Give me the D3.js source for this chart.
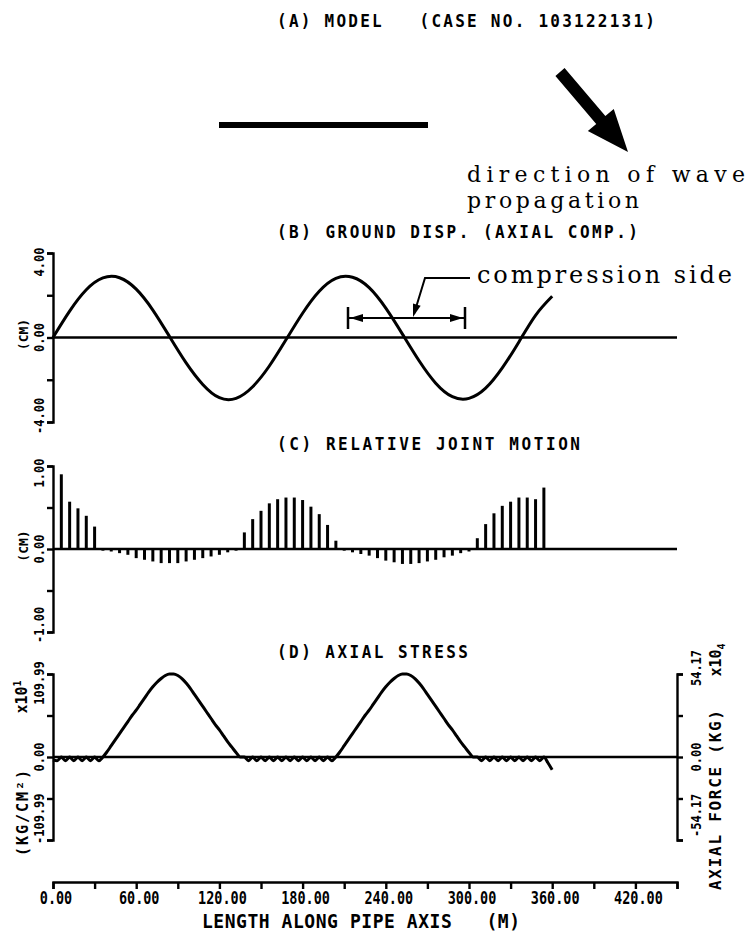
<!DOCTYPE html>
<meta charset="utf-8">
<script src="https://d3js.org/d3.v7.min.js"></script>
<style>
  body { margin: 0; background: #fff; }
  svg text { font-family: 'DejaVu Sans Mono', monospace; font-weight: bold; fill: #000; white-space: pre; }
  svg text.note { font-family: 'DejaVu Serif', serif; font-weight: normal; }
  .axis path, .axis line { stroke: #000; stroke-width: 2.4; fill: none; }
  .curve { fill: none; stroke: #000; stroke-width: 3; stroke-linejoin: round; }
</style>
<svg width="749" height="937"></svg>
<script>
// ---- values ----
// x axis (length along pipe, m)
var xTicks = [0, 30, 60, 90, 120, 150, 180, 210, 240, 270, 300, 330, 360, 390, 420, 450];
var xLabelVals = [0, 60, 120, 180, 240, 300, 360, 420];
var xLabels = ["0.00", "60.00", "120.00", "180.00", "240.00", "300.00", "360.00", "420.00"];

// (B) ground displacement, cm
var groundX = [0, 12, 24, 36, 48, 60, 72, 84, 96, 108, 120, 132, 144, 156, 168, 180,
               192, 204, 216, 228, 240, 252, 264, 276, 288, 300, 312, 324, 336, 348, 360];
var groundDisp = [0, 1.25, 2.26, 2.82, 2.83, 2.29, 1.30, 0.05, -1.20, -2.22, -2.85, -2.88, -2.33, -1.35, -0.11, 1.15,
                  2.19, 2.80, 2.85, 2.36, 1.39, 0.16, -1.10, -2.16, -2.80, -2.88, -2.40, -1.44, -0.21, 1.05, 1.95];
var dispTicks = [-4, -2, 0, 2, 4];
var dispLabels = ["-4.00", "", "0.00", "", "4.00"];

// (C) relative joint motion, cm
var jointX = [6, 12, 18, 24, 30, 36, 42, 48, 54, 60, 66, 72, 78, 84, 90, 96, 102, 108, 114, 120,
              126, 132, 138, 144, 150, 156, 162, 168, 174, 180, 186, 192, 198, 204, 210, 216, 222, 228,
              234, 240, 246, 252, 258, 264, 270, 276, 282, 288, 294, 300, 306, 312, 318, 324, 330, 336,
              342, 348, 354];
var jointMotion = [0.90, 0.57, 0.49, 0.40, 0.27, -0.02, -0.03, -0.05, -0.07, -0.11, -0.13, -0.15, -0.17, -0.17,
                   -0.17, -0.15, -0.13, -0.11, -0.09, -0.07, -0.04, -0.02, 0.20, 0.36, 0.46, 0.55, 0.60, 0.62,
                   0.62, 0.59, 0.51, 0.42, 0.29, 0.10, -0.02, -0.04, -0.06, -0.08, -0.11, -0.14, -0.16, -0.18,
                   -0.18, -0.17, -0.15, -0.13, -0.10, -0.08, -0.05, -0.03, 0.13, 0.30, 0.43, 0.52, 0.57, 0.62,
                   0.62, 0.60, 0.74];
var motionTicks = [-1, -0.5, 0, 0.5, 1];
var motionLabels = ["-1.00", "", "0.00", "", "1.00"];

// (D) axial stress, x10 kg/cm2
var stressX = [0, 3, 6, 9, 12, 15, 18, 21, 24, 27, 30, 33, 36, 39, 42, 45, 48, 51, 54, 57, 60, 63, 66, 69,
               72, 75, 78, 81, 84, 87, 90, 93, 96, 99, 102, 105, 108, 111, 114, 117, 120, 123, 126, 129,
               132, 135, 138, 141, 144, 147, 150, 153, 156, 159, 162, 165, 168, 171, 174, 177, 180, 183,
               186, 189, 192, 195, 198, 201, 204, 207, 210, 213, 216, 219, 222, 225, 228, 231, 234, 237,
               240, 243, 246, 249, 252, 255, 258, 261, 264, 267, 270, 273, 276, 279, 282, 285, 288, 291,
               294, 297, 300, 303, 306, 309, 312, 315, 318, 321, 324, 327, 330, 333, 336, 339, 342, 345,
               348, 351, 354, 357, 360];
var stress = [-4, -5, 0, -5, 0, -5, 0, -5, 0, -5, 0, -5, 0, 7, 15, 23, 31, 39, 47, 55, 62, 70, 78, 86,
              93, 99, 104, 108, 110, 110, 108, 104, 98, 91, 83, 75, 67, 59, 51, 43, 36, 28, 20, 13,
              6, 0, 0, -5, 0, -5, 0, -5, 0, -5, 0, -5, 0, -5, 0, -5, 0, -5, 0, -5, 0, -5, 0, -5,
              0, 7, 15, 23, 31, 39, 47, 55, 62, 70, 78, 86, 93, 99, 104, 108, 110, 110, 108, 104,
              98, 91, 83, 75, 67, 59, 51, 43, 36, 28, 20, 13, 6, 0, 0, -5, 0, -5, 0, -5, 0, -5,
              0, -5, 0, -5, 0, -5, 0, -5, 0, -8, -17];
var stressTicks = [-109.99, -55, 0, 55, 109.99];
var stressLabels = ["-109.99", "", "0.00", "", "109.99"];
var forceTicks = [-54.17, -27.08, 0, 27.08, 54.17];
var forceLabels = ["-54.17", "", "0.00", "", "54.17"];

// ---- layout ----
var svg = d3.select("svg");
var x = d3.scaleLinear().domain([0, 450]).range([53, 677]);
var yB = d3.scaleLinear().domain([-4, 4]).range([422, 253]);
var yC = d3.scaleLinear().domain([-1, 1]).range([632, 466]);
var yD = d3.scaleLinear().domain([-109.99, 109.99]).range([840, 674]);
var yF = d3.scaleLinear().domain([-54.17, 54.17]).range([840, 674]);

function txt(str, px, py, o) {
    o = o || {};
    var tr = "translate(" + px + "," + py + ")";
    if (o.rot) tr += " rotate(" + o.rot + ")";
    if (o.sy) tr += " scale(1," + o.sy + ")";
    var t = svg.append("text")
        .attr("transform", tr)
        .attr("font-size", o.size || 12)
        .attr("text-anchor", o.anchor || "start")
        .text(str);
    if (o.len) t.attr("textLength", o.len).attr("lengthAdjust", "spacing");
    if (o.cls) t.attr("class", o.cls);
    return t;
}

// rotated tick labels beside a vertical axis
function vLabels(y, vals, labels, bx, topOff, botOff) {
    var o = {rot: -90, size: 12, sy: 1.1};
    vals.forEach(function(v, i) {
        if (!labels[i]) return;
        if (i == vals.length - 1) txt(labels[i], bx, y(v) + topOff, Object.assign({anchor: "middle"}, o));
        else if (i == 0) txt(labels[i], bx, y(v) + botOff, Object.assign({anchor: "start"}, o));
        else txt(labels[i], bx, y(v), Object.assign({anchor: "middle"}, o));
    });
}

function leftAxis(y, vals) {
    svg.append("g").attr("class", "axis")
        .attr("transform", "translate(" + x(0) + ",0)")
        .call(d3.axisLeft(y).tickValues(vals).tickSize(6).tickFormat(""));
}

function zeroLine(y) {
    svg.append("line")
        .attr("x1", x(0)).attr("x2", x(450))
        .attr("y1", y(0)).attr("y2", y(0))
        .attr("stroke", "#000").attr("stroke-width", 2.5);
}

// ---- (A) model ----
txt("(A) MODEL   (CASE NO. 103122131)", 277, 27, {size: 16, sy: 1.08, len: 378});
svg.append("line").attr("x1", 219).attr("x2", 428).attr("y1", 125).attr("y2", 125)
    .attr("stroke", "#000").attr("stroke-width", 6);

// big arrow: direction of wave propagation
(function() {
    var t = [560, 72], p = [628, 152];
    var dx = p[0] - t[0], dy = p[1] - t[1], L = Math.hypot(dx, dy);
    var ux = dx / L, uy = dy / L, nx = -uy, ny = ux;
    var hl = 42, hw = 17, sw = 6;
    var b = [p[0] - ux * hl, p[1] - uy * hl];
    var pts = [
        [t[0] + nx * sw, t[1] + ny * sw], [b[0] + nx * sw, b[1] + ny * sw], [b[0] + nx * hw, b[1] + ny * hw],
        p, [b[0] - nx * hw, b[1] - ny * hw], [b[0] - nx * sw, b[1] - ny * sw], [t[0] - nx * sw, t[1] - ny * sw]
    ];
    svg.append("polygon").attr("points", pts.map(function(d) { return d.join(","); }).join(" ")).attr("fill", "#000");
})();
txt("direction of wave", 467, 182, {cls: "note", size: 22, len: 278});
txt("propagation", 467, 208, {cls: "note", size: 22, len: 172});

// ---- (B) ground displacement ----
txt("(B) GROUND DISP. (AXIAL COMP.)", 277, 238, {size: 16, sy: 1.08, len: 361});
leftAxis(yB, dispTicks);
vLabels(yB, dispTicks, dispLabels, 44, 9, 12);
txt("(CM)", 28, yB(0) - 3, {rot: -90, size: 13, anchor: "middle"});
zeroLine(yB);
svg.append("path").attr("class", "curve")
    .attr("d", d3.line().x(function(d) { return x(d[0]); }).y(function(d) { return yB(d[1]); })
        .curve(d3.curveNatural)(groundX.map(function(v, i) { return [v, groundDisp[i]]; })));

// compression side annotation
function head(tip, from, len, wid) {
    var dx = tip[0] - from[0], dy = tip[1] - from[1], L = Math.hypot(dx, dy);
    var ux = dx / L, uy = dy / L;
    var bx = tip[0] - ux * len, by = tip[1] - uy * len;
    svg.append("polygon").attr("fill", "#000")
        .attr("points", [tip, [bx - uy * wid, by + ux * wid], [bx + uy * wid, by - ux * wid]]
            .map(function(d) { return d.join(","); }).join(" "));
}
var ann = svg.append("g").attr("stroke", "#000").attr("fill", "none");
ann.append("line").attr("x1", 348).attr("x2", 465).attr("y1", 318).attr("y2", 318).attr("stroke-width", 2);
ann.append("line").attr("x1", 348).attr("x2", 348).attr("y1", 307).attr("y2", 329).attr("stroke-width", 2.5);
ann.append("line").attr("x1", 465).attr("x2", 465).attr("y1", 307).attr("y2", 329).attr("stroke-width", 2.5);
head([350, 318], [370, 318], 13, 4);
head([463, 318], [440, 318], 13, 4);
ann.append("polyline").attr("points", "470,278 425,278 414,314").attr("stroke-width", 2);
head([413, 317], [425, 278], 13, 4);
txt("compression side", 477, 283, {cls: "note", size: 24, len: 255});

// ---- (C) relative joint motion ----
txt("(C) RELATIVE JOINT MOTION", 277, 450, {size: 16, sy: 1.08, len: 303});
leftAxis(yC, motionTicks);
vLabels(yC, motionTicks, motionLabels, 44, 7, 11);
txt("(CM)", 28, yC(0) - 3, {rot: -90, size: 13, anchor: "middle"});
zeroLine(yC);
svg.append("g").selectAll("line").data(jointX).enter().append("line")
    .attr("x1", function(d) { return x(d); }).attr("x2", function(d) { return x(d); })
    .attr("y1", yC(0)).attr("y2", function(d, i) { return yC(jointMotion[i]); })
    .attr("stroke", "#000").attr("stroke-width", 3);

// ---- (D) axial stress ----
txt("(D) AXIAL STRESS", 277, 658, {size: 16, sy: 1.08, len: 191});
leftAxis(yD, stressTicks);
vLabels(yD, stressTicks, stressLabels, 44, 9, 4);
var t1 = txt("x10", 27, 697, {rot: -90, size: 15, anchor: "middle"});
t1.append("tspan").attr("dy", -6).attr("font-size", 10).text("1");
txt("(KG/CM²)", 28, 813, {rot: -90, size: 15, anchor: "middle", len: 86});
zeroLine(yD);
svg.append("path").attr("class", "curve")
    .attr("d", d3.line().x(function(d) { return x(d[0]); }).y(function(d) { return yD(d[1]); })
        .curve(d3.curveMonotoneX)(stressX.map(function(v, i) { return [v, stress[i]]; })));

// right axis: axial force
svg.append("g").attr("class", "axis")
    .attr("transform", "translate(" + x(450) + ",0)")
    .call(d3.axisRight(yF).tickValues(forceTicks).tickSize(6).tickFormat(""));
vLabels(yF, forceTicks, forceLabels, 701, -6, -3);
txt("AXIAL FORCE (KG)", 721, 800, {rot: -90, size: 16, anchor: "middle", len: 180});
var t2 = txt("x10", 721, 660, {rot: -90, size: 15, anchor: "middle"});
t2.append("tspan").attr("dy", 4).attr("font-size", 10).text("4");

// ---- bottom axis ----
svg.append("g").attr("class", "axis")
    .attr("transform", "translate(0,882)")
    .call(d3.axisBottom(x).tickValues(xTicks).tickSize(7).tickFormat(""));
xLabelVals.forEach(function(v, i) {
    txt(xLabels[i], x(v) + 3, 904, {size: 13.5, sy: 1.3, anchor: "middle"});
});
txt("LENGTH ALONG PIPE AXIS   (M)", 202, 928, {size: 18, sy: 1.12, len: 318});
</script>
